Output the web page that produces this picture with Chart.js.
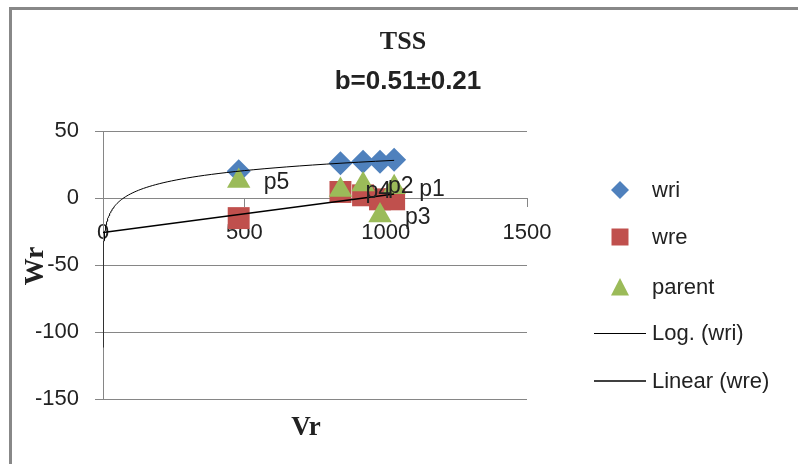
<!DOCTYPE html>
<html>
<head>
<meta charset="utf-8">
<script src="https://cdn.jsdelivr.net/npm/chart.js@4/dist/chart.umd.min.js"></script>
<style>
  html, body { margin: 0; padding: 0; background: #fff; }
  canvas { display: block; }
</style>
</head>
<body>
<canvas id="chart" width="798" height="464"></canvas>
<script>
// values
var vr = [480, 840, 920, 980, 1030];
var wri = [20, 26, 27, 27, 28.5];
var wre = [-15, 4.5, 2, -1, -1];
var parent = [12.7, 6, 10, -13, 8];
var parentLabels = ['p5', 'p4', 'p2', 'p3', 'p1'];
var seriesNames = ['wri', 'wre', 'parent', 'Log. (wri)', 'Linear (wre)'];
var xTicks = [0, 500, 1000, 1500];
var yTicks = [-150, -100, -50, 0, 50];
var trendStart = 0.002; // log trendline forecast back towards 0

function pts(xs, ys) {
  return xs.map(function(x, i) { return {x: x, y: ys[i]}; });
}

// least squares fits, like the spreadsheet trendlines
function fitLinear(xs, ys) {
  var n = xs.length, mx = 0, my = 0, sxy = 0, sxx = 0;
  xs.forEach(function(x, i) { mx += x / n; my += ys[i] / n; });
  xs.forEach(function(x, i) { sxy += (x - mx) * (ys[i] - my); sxx += (x - mx) * (x - mx); });
  var a = sxy / sxx;
  return {a: a, b: my - a * mx};
}
var logFit = fitLinear(vr.map(Math.log), wri);
var linFit = fitLinear(vr, wre);

var logLine = [];
var lo = Math.log(trendStart), hi = Math.log(vr[vr.length - 1]);
for (var i = 0; i <= 200; i++) {
  var lx = lo + (hi - lo) * i / 200;
  logLine.push({x: Math.exp(lx), y: logFit.b + logFit.a * lx});
}
var linLine = [0, vr[vr.length - 1]].map(function(x) {
  return {x: x, y: linFit.b + linFit.a * x};
});

var COLORS = {wri: '#4F81BD', wre: '#C0504D', parent: '#9BBB59'};
var TEXT = '#222';
var GRID = '#868686';

function marker(ctx, style, x, y, r, color) {
  ctx.save();
  ctx.fillStyle = color;
  ctx.beginPath();
  if (style === 'diamond') {
    ctx.moveTo(x, y - r); ctx.lineTo(x + r, y); ctx.lineTo(x, y + r); ctx.lineTo(x - r, y);
  } else if (style === 'square') {
    ctx.rect(x - r, y - r, 2 * r, 2 * r);
  } else {
    ctx.moveTo(x, y - r); ctx.lineTo(x + r, y + r * 0.95); ctx.lineTo(x - r, y + r * 0.95);
  }
  ctx.closePath();
  ctx.fill();
  ctx.restore();
}

var extras = {
  id: 'extras',
  afterDraw: function(chart) {
    var ctx = chart.ctx;
    ctx.save();

    // chart frame (only top and left edges show)
    ctx.fillStyle = '#888';
    ctx.fillRect(9, 7, 789, 3);
    ctx.fillRect(9, 7, 3, 457);

    // data labels on the parent points
    ctx.fillStyle = TEXT;
    ctx.font = '23px "Liberation Sans", Arial, sans-serif';
    ctx.textAlign = 'left';
    ctx.textBaseline = 'middle';
    chart.getDatasetMeta(2).data.forEach(function(el, i) {
      ctx.fillText(parentLabels[i], el.x + 25, el.y + 2);
    });

    // titles
    ctx.textAlign = 'center';
    ctx.font = 'bold 26px "Liberation Serif", "Times New Roman", serif';
    ctx.fillText('TSS', 403, 42);
    ctx.font = 'bold 26px "Liberation Sans", Arial, sans-serif';
    ctx.fillText('b=0.51\u00b10.21', 408, 82);
    ctx.font = 'bold 27px "Liberation Serif", "Times New Roman", serif';
    ctx.fillText('Vr', 306, 428);
    ctx.save();
    ctx.translate(36, 266);
    ctx.rotate(-Math.PI / 2);
    ctx.fillText('Wr', 0, 0);
    ctx.restore();

    // legend
    var ly = [190, 237, 287, 333, 381];
    marker(ctx, 'diamond', 620, ly[0], 9, COLORS.wri);
    marker(ctx, 'square', 620, ly[1], 8.5, COLORS.wre);
    marker(ctx, 'triangle', 620, ly[2], 9, COLORS.parent);
    ctx.strokeStyle = '#000';
    ctx.lineWidth = 1;
    ctx.beginPath(); ctx.moveTo(594, ly[3] + 0.5); ctx.lineTo(646, ly[3] + 0.5); ctx.stroke();
    ctx.lineWidth = 1.5;
    ctx.beginPath(); ctx.moveTo(594, ly[4]); ctx.lineTo(646, ly[4]); ctx.stroke();
    ctx.fillStyle = TEXT;
    ctx.textAlign = 'left';
    ctx.font = '22px "Liberation Sans", Arial, sans-serif';
    seriesNames.forEach(function(name, i) {
      ctx.fillText(name, 652, ly[i] + 1);
    });

    ctx.restore();
  }
};

var tickFont = {family: '"Liberation Sans", Arial, sans-serif', size: 22};
var plain = function(v) { return String(v); };

new Chart(document.getElementById('chart').getContext('2d'), {
  type: 'scatter',
  data: {
    datasets: [
      {label: seriesNames[3], data: logLine, showLine: true, borderColor: '#000', borderWidth: 1,
       pointRadius: 0, tension: 0, order: 0},
      {label: seriesNames[4], data: linLine, showLine: true, borderColor: '#000', borderWidth: 1.5,
       pointRadius: 0, order: 0},
      {label: seriesNames[2], data: pts(vr, parent), pointStyle: 'triangle', pointRadius: 13.5,
       backgroundColor: COLORS.parent, borderWidth: 0, order: 1},
      {label: seriesNames[1], data: pts(vr, wre), pointStyle: 'rect', pointRadius: 15.5,
       backgroundColor: COLORS.wre, borderWidth: 0, order: 2},
      {label: seriesNames[0], data: pts(vr, wri), pointStyle: 'rectRot', pointRadius: 12,
       backgroundColor: COLORS.wri, borderWidth: 0, order: 3}
    ]
  },
  options: {
    responsive: false,
    animation: false,
    layout: {padding: {left: 0, top: 131, right: 271, bottom: 65}},
    plugins: {legend: {display: false}, tooltip: {enabled: false}},
    scales: {
      x: {
        type: 'linear', min: 0, max: 1500,
        position: {y: 0},
        afterBuildTicks: function(scale) { scale.ticks = xTicks.map(function(v) { return {value: v}; }); },
        ticks: {font: tickFont, color: TEXT, padding: 14, callback: plain},
        grid: {drawOnChartArea: false, drawTicks: true, tickLength: 8, color: GRID},
        border: {color: GRID, width: 1}
      },
      y: {
        type: 'linear', min: -150, max: 50,
        afterBuildTicks: function(scale) { scale.ticks = yTicks.map(function(v) { return {value: v}; }); },
        afterFit: function(scale) { scale.width = 103; },
        ticks: {font: tickFont, color: TEXT, padding: 16, callback: plain},
        grid: {color: GRID, tickLength: 8, lineWidth: 1},
        border: {color: GRID, width: 1}
      }
    }
  },
  plugins: [extras]
});
</script>
</body>
</html>
